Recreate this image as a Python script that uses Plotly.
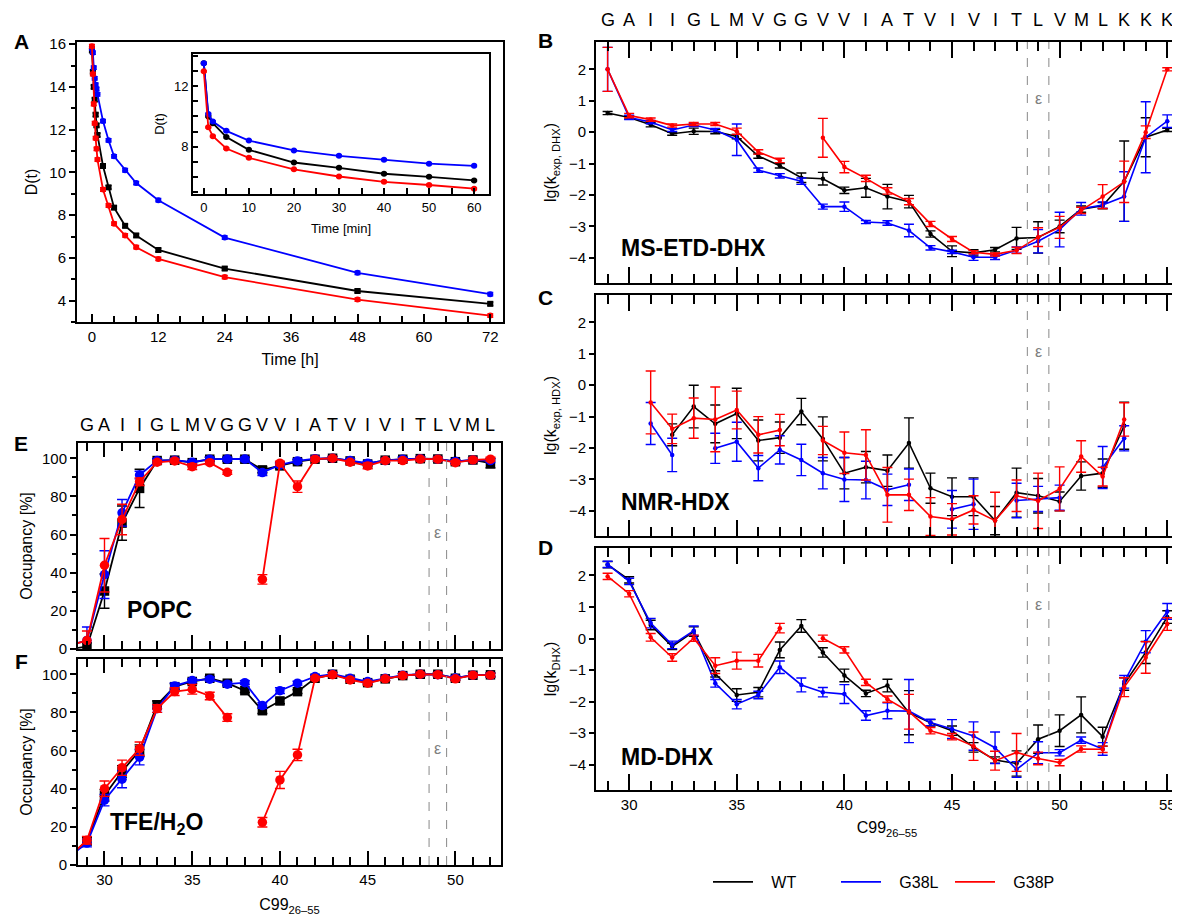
import plotly.graph_objects as go

W, H = 1180, 919
OFF = 8  # page body margin in the browser
FW, FH = W - OFF, H - OFF
FONT = "Liberation Sans, Arial, sans-serif"
COLORS = {"WT": "#000000", "G38L": "#0000ff", "G38P": "#ff0000"}

# ---------------- panel A: deuteration over time ----------------
time_h = [0, 0.17, 0.33, 0.5, 0.67, 0.83, 1, 2, 3, 4, 6, 8, 12, 24, 48, 72]
dA_wt = [15.7, 14.7, 14.0, 13.4, 12.7, 12.2, 11.75, 10.3, 9.3, 8.35, 7.5, 7.05, 6.37, 5.5, 4.45, 3.85]
dA_g38l = [15.8, 15.6, 14.9, 14.4, 14.1, 13.9, 13.65, 12.4, 11.5, 10.75, 10.1, 9.5, 8.7, 6.95, 5.3, 4.3]
dA_g38p = [15.9, 14.6, 13.2, 12.3, 11.6, 11.1, 10.6, 9.2, 8.45, 7.6, 7.05, 6.5, 5.95, 5.1, 4.05, 3.3]

time_min = [0, 1, 2, 5, 10, 20, 30, 40, 50, 60]
dI_wt = [13.5, 10.0, 9.55, 8.64, 7.8, 6.97, 6.62, 6.23, 6.03, 5.79]
dI_g38l = [13.5, 10.16, 9.66, 9.05, 8.41, 7.76, 7.41, 7.15, 6.89, 6.75]
dI_g38p = [12.96, 9.29, 8.7, 7.89, 7.28, 6.52, 6.05, 5.7, 5.49, 5.25]

# ---------------- panels B-D: residue resolved rates ----------------
residues = list(range(29, 56))
sequence = list("GAIIGLMVGGVVIATVIVITLVMLKKK")

kB_wt = [0.61, 0.47, 0.24, -0.05, 0.03, 0.02, -0.14, -0.76, -1.07, -1.45, -1.48, -1.85,
         -1.77, -2.05, -2.21, -3.24, -3.79, -3.84, -3.74, -3.38, -3.35, -3.0, -2.45, -2.34, -1.56, -0.16, 0.07]
eB_wt = [0.05, 0.05, 0.07, 0.05, 0.1, 0.07, 0.07, 0.07, 0.07, 0.15, 0.2, 0.1,
         0.3, 0.39, 0.2, 0.1, 0.17, 0.1, 0.07, 0.35, 0.5, 0.2, 0.1, 0.1, 1.28, 0.62, 0.05]
kB_g38l = [2.0, 0.47, 0.32, 0.07, 0.23, 0.07, -0.24, -1.21, -1.39, -1.56, -2.37, -2.37,
           -2.86, -2.89, -3.13, -3.68, -3.81, -3.98, -3.98, -3.75, -3.47, -3.1, -2.44, -2.32, -2.05, -0.16, 0.35]
eB_g38l = [0.7, 0.07, 0.05, 0.05, 0.05, 0.05, 0.5, 0.07, 0.07, 0.1, 0.08, 0.15,
           0.05, 0.07, 0.2, 0.07, 0.05, 0.1, 0.07, 0.1, 0.37, 0.55, 0.2, 0.1, 0.79, 1.13, 0.2]
kB_g38p = [2.0, 0.53, 0.4, 0.21, 0.26, 0.26, 0.03, -0.63, -0.9, None, -0.18, -1.11,
           -1.47, -1.87, -2.21, -2.92, -3.4, -3.82, -3.89, -3.76, -3.34, -3.03, -2.49, -2.05, -1.58, 0.0, 2.0]
eB_g38p = [0.7, 0.07, 0.05, 0.05, 0.05, 0.05, 0.1, 0.07, 0.07, 0, 0.62, 0.18,
           0.1, 0.1, 0.1, 0.08, 0.08, 0.05, 0.05, 0.1, 0.3, 0.35, 0.1, 0.38, 0.66, 0.2, 0.05]

kC_wt = [None, None, None, -1.58, -0.68, -1.23, -0.9, -1.76, -1.67, -0.84, -1.71, -2.8,
         -2.61, -2.72, -1.84, -3.28, -3.55, -3.55, -4.31, -3.42, -3.52, -3.7, -2.89, -2.8, -1.29, None, None]
eC_wt = [0, 0, 0, 0.35, 0.68, 0.6, 0.8, 0.65, 0.5, 0.42, 0.7, 0.5,
         0.5, 0.5, 0.8, 0.48, 0.6, 0.6, 0.45, 0.78, 0.55, 0.3, 0.45, 0.45, 0.75, 0, 0]
kC_g38l = [None, None, -1.22, -2.22, None, -2.01, -1.8, -2.64, -2.06, -2.38, -2.8, -3.0,
           -3.02, -3.33, -3.17, None, -3.95, -3.79, None, -3.67, -3.62, -3.58, None, -2.62, -1.69, None, None]
eC_g38l = [0, 0, 0.67, 0.53, 0, 0.48, 0.62, 0.4, 0.45, 0.5, 0.5, 0.7,
           0.6, 0.5, 0.5, 0, 0.6, 0.8, 0, 0.55, 0.4, 0.4, 0, 0.67, 0.4, 0, 0]
kC_g38p = [None, None, -0.55, -1.39, -1.05, -1.09, -0.79, -1.58, -1.43, None, -1.76, -2.15,
           -2.22, -3.49, -3.49, -4.18, -4.27, -3.97, -4.31, -3.52, -3.68, -3.3, -2.27, -2.91, -1.09, None, None]
eC_g38p = [0, 0, 1.0, 0.47, 0.64, 1.03, 0.6, 0.58, 0.5, 0, 0.45, 0.66,
           0.8, 0.87, 0.5, 0.6, 0.5, 0.45, 0.9, 0.5, 0.88, 0.7, 0.5, 0.3, 0.53, 0, 0]

kD_wt = [2.34, 1.86, 0.43, -0.25, 0.22, -1.12, -1.79, -1.7, -0.36, 0.4, -0.44, -1.17,
         -1.74, -1.49, -2.35, -2.67, -2.92, -3.45, -3.85, -3.96, -3.19, -2.92, -2.42, -3.11, -1.44, -0.44, 0.68]
eD_wt = [0.1, 0.1, 0.15, 0.1, 0.15, 0.1, 0.2, 0.15, 0.25, 0.2, 0.15, 0.2,
         0.1, 0.2, 0.7, 0.1, 0.15, 0.15, 0.1, 0.4, 0.45, 0.5, 0.57, 0.3, 0.2, 0.35, 0.2]
kD_g38l = [2.35, 1.81, 0.49, -0.2, 0.25, -1.42, -2.08, -1.79, -0.91, -1.47, -1.7, -1.76,
           -2.44, -2.29, -2.3, -2.66, -2.87, -3.09, -3.46, -4.15, -3.62, -3.62, -3.22, -3.5, -1.37, -0.1, 0.86]
eD_g38l = [0.1, 0.1, 0.15, 0.12, 0.15, 0.12, 0.15, 0.12, 0.2, 0.22, 0.15, 0.3,
           0.15, 0.25, 1.0, 0.1, 0.3, 0.45, 0.5, 0.25, 0.35, 0.1, 0.1, 0.2, 0.2, 0.35, 0.25]
kD_g38p = [1.97, 1.42, 0.04, -0.6, 0.01, -0.86, -0.7, -0.7, 0.33, None, 0.01, -0.36,
           -1.39, -1.92, -2.32, -2.92, -3.11, -3.41, -3.87, -3.61, -3.8, -3.93, -3.5, -3.51, -1.54, -0.6, 0.46]
eD_g38p = [0.1, 0.1, 0.12, 0.12, 0.1, 0.25, 0.27, 0.2, 0.15, 0, 0.1, 0.1,
           0.1, 0.1, 0.55, 0.1, 0.1, 0.45, 0.3, 0.6, 0.2, 0.1, 0.1, 0.1, 0.3, 0.5, 0.2]

# ---------------- panels E-F: helix occupancy ----------------
res_occ = list(range(28, 53))
seq_occ = list("GAIIGLMVGGVVIATVIVITLVML")  # residues 29-52

occE_wt = [0, 1.2, 30.4, 66, 84.2, 98.8, 99, 97.7, 99.5, 99.5, 99.5, 93.9, 96,
           98.2, 99.5, 100, 98.6, 97, 99, 99.5, 99.8, 99.6, 98.2, 99.1, 97.4]
eE_wt = [0, 2, 9, 9, 10, 1, 1, 1, 1, 1, 1, 1.5, 1.5, 1, 1, 1, 1, 1, 1, 1, 1, 1, 1, 1, 2.5]
occE_g38l = [2, 4.5, 39, 71.4, 91.2, 98.8, 99, 97.9, 99.5, 99.6, 99.6, 92.5, 96.5,
             98.6, 99.8, 100, 98.8, 97.4, 98.8, 99.5, 99.8, 99.5, 98.4, 99.1, 98.8]
eE_g38l = [0, 7, 12.5, 7, 2, 1, 1, 1, 1, 1, 1, 1.5, 1, 1, 1, 1, 1, 1, 1, 1, 1, 1, 1, 1, 1]
occE_g38p = [2, 4.4, 43.9, 67.9, 87.7, 97.9, 98.6, 95.6, 97.7, 92.6, None, 36.5, 97.4,
             85.1, 99.5, 100, 97.9, 96, 98.8, 98.8, 99.6, 99.5, 97.7, 99.1, 99.5]
eE_g38p = [0, 5, 14, 8, 2, 1, 1, 1.5, 1, 1, 0, 2.5, 1, 3, 1, 1, 1, 1.5, 1, 1, 1, 1, 1, 1, 1]

occF_wt = [4.5, 12.6, 36.5, 49, 60, 84, 93.5, 96.2, 97.9, 95.3, 91.4, 80.9, 86,
           90.9, 97.9, 100, 97.4, 95.6, 97.6, 99.3, 100, 100, 97.9, 99.5, 99.7]
eF_wt = [0, 2, 3, 3, 3, 2, 1.5, 1, 1, 1, 1, 1.5, 1.5, 1, 1, 1, 1, 1, 1, 1, 1, 1, 1, 1, 1]
occF_g38l = [4.5, 11.5, 34, 45, 56.5, 82, 93.9, 96.7, 97.4, 94.8, 95.6, 83.6, 91.4,
             95.3, 98.8, 100, 97.9, 96.2, 97.9, 99.5, 100, 99.8, 98.1, 99.5, 99.5]
eF_g38l = [0, 2, 3, 4.5, 4, 2, 1.5, 1, 1, 1, 1, 1.5, 1.5, 1, 1, 1, 1, 1, 1, 1, 1, 1, 1, 1, 1]
occF_g38p = [4.5, 13, 40, 51, 61, 82, 90.9, 92.1, 88.6, 77.3, None, 22.4, 44.6,
             57.7, 97.9, 99.8, 97, 95.3, 97.6, 99.3, 100, 99.8, 97.6, 99.5, 99.5]
eF_g38p = [0, 2, 4, 4, 3.5, 2, 2, 2.5, 2, 2, 0, 2.5, 4.5, 3, 1, 1, 1, 1, 1, 1, 1, 1, 1, 1, 1]


def px2x(px):
    return (px - OFF) / FW


def px2y(py):
    return 1 - (py - OFF) / FH


def dom_x(a, b):
    return [px2x(a), px2x(b)]


def dom_y(top, bottom):
    return [px2y(bottom), px2y(top)]


fig = go.Figure()


def add_series(x, y, err, name, ax, size, symbol="circle", width=1.6, cap=4):
    n = "" if ax == 1 else str(ax)
    fig.add_trace(go.Scatter(
        x=x, y=y, mode="lines+markers", name=name, showlegend=False,
        xaxis="x" + n, yaxis="y" + n,
        line=dict(color=COLORS[name], width=width),
        marker=dict(color=COLORS[name], size=size, symbol=symbol),
        error_y=dict(type="data", array=err, color=COLORS[name], thickness=1.4, width=cap),
    ))


# panel A
for name, d in [("WT", dA_wt), ("G38L", dA_g38l), ("G38P", dA_g38p)]:
    add_series(time_h, d, [0.08] * len(d), name, 1, 6, "square" if name == "WT" else "circle", 1.8, 3)
for name, d in [("WT", dI_wt), ("G38L", dI_g38l), ("G38P", dI_g38p)]:
    add_series(time_min, d, [0.05] * len(d), name, 2, 6, "circle", 1.8, 3)

# panels B, C, D
for ax, sets in [(3, [("WT", kB_wt, eB_wt), ("G38L", kB_g38l, eB_g38l), ("G38P", kB_g38p, eB_g38p)]),
                 (4, [("WT", kC_wt, eC_wt), ("G38L", kC_g38l, eC_g38l), ("G38P", kC_g38p, eC_g38p)]),
                 (5, [("WT", kD_wt, eD_wt), ("G38L", kD_g38l, eD_g38l), ("G38P", kD_g38p, eD_g38p)])]:
    for name, k, e in sets:
        add_series(residues, k, e, name, ax, 4.5, "circle", 1.6, 5)

# panels E, F
for ax, sets in [(6, [("WT", occE_wt, eE_wt), ("G38L", occE_g38l, eE_g38l), ("G38P", occE_g38p, eE_g38p)]),
                 (7, [("WT", occF_wt, eF_wt), ("G38L", occF_g38l, eF_g38l), ("G38P", occF_g38p, eF_g38p)])]:
    for name, o, e in sets:
        add_series(res_occ, o, e, name, ax, 9.5, "square" if name == "WT" else "circle", 1.8, 5)

# legend entries, one small legend per entry to match spacing
for name, leg in [("WT", "legend"), ("G38L", "legend2"), ("G38P", "legend3")]:
    fig.add_trace(go.Scatter(x=[None], y=[None], mode="lines", name="\u00a0\u00a0\u00a0" + name, legend=leg,
                             line=dict(color=COLORS[name], width=1.6), xaxis="x5", yaxis="y5"))

tickfont = dict(family=FONT, size=15, color="black")
base = dict(showline=True, linecolor="black", linewidth=2, showgrid=False, zeroline=False,
            tickcolor="black", tickwidth=1.8, tickfont=tickfont, automargin=False)

# residue x axes
res_x = dict(base, range=[28.46, 55.5], mirror="ticks", ticks="inside", ticklen=16,
             tick0=0, dtick=5, minor=dict(ticks="inside", ticklen=9, tick0=0, dtick=1,
                                          tickcolor="black", tickwidth=1.8, showgrid=False))
occ_x = dict(base, range=[28.49, 52.6], mirror="ticks", ticks="inside", ticklen=14,
             tick0=0, dtick=5, minor=dict(ticks="inside", ticklen=8, tick0=0, dtick=1,
                                          tickcolor="black", tickwidth=1.8, showgrid=False))
k_y = dict(base, range=[-4.8, 2.87], mirror=True, ticks="outside", ticklen=5, dtick=1,
           title=dict(font=dict(family=FONT, size=16, color="black"), standoff=8))
occ_y = dict(base, range=[0, 108], mirror=True, ticks="outside", ticklen=6, tick0=0, dtick=20,
             minor=dict(ticks="outside", ticklen=4, dtick=10, tickcolor="black", tickwidth=1.8),
             title=dict(text="Occupancy [%]", font=dict(family=FONT, size=16, color="black"), standoff=5))

xB, yB = dom_x(596, 1178), dom_y(42, 283)
yC, yD = dom_y(295, 536), dom_y(548, 790)
xE, yE, yF = dom_x(78, 501), dom_y(443, 649), dom_y(659, 865)

leg_style = dict(orientation="h", xanchor="left", yanchor="middle", y=px2y(882), itemwidth=40,
                 font=dict(family=FONT, size=16), bgcolor="rgba(0,0,0,0)")

fig.update_layout(
    width=FW, height=FH, margin=dict(l=0, r=0, t=0, b=0, autoexpand=False),
    paper_bgcolor="white", plot_bgcolor="white",
    font=dict(family=FONT, color="black"),
    xaxis=dict(base, domain=dom_x(77, 503), anchor="y", range=[-2.7, 74.3], mirror=True,
               ticks="inside", ticklen=8, tick0=0, dtick=12,
               minor=dict(ticks="inside", ticklen=6, dtick=4, tickcolor="black", tickwidth=1.8),
               title=dict(text="Time [h]", font=dict(family=FONT, size=16), standoff=10)),
    yaxis=dict(base, domain=dom_y(42, 322), anchor="x", range=[3.0, 16.1], mirror=True,
               ticks="outside", ticklen=6, dtick=2,
               minor=dict(ticks="outside", ticklen=4, dtick=1, tickcolor="black", tickwidth=1.8),
               title=dict(text="D(t)", font=dict(family=FONT, size=16), standoff=8)),
    xaxis2=dict(base, domain=dom_x(193, 489), anchor="y2", range=[-2.4, 63.3], mirror=True,
                ticks="inside", ticklen=6, tick0=0, dtick=10, tickfont=dict(family=FONT, size=13),
                minor=dict(ticks="inside", ticklen=6, dtick=5, tickcolor="black", tickwidth=1.5),
                title=dict(text="Time [min]", font=dict(family=FONT, size=13), standoff=10)),
    yaxis2=dict(base, domain=dom_y(54, 194), anchor="x2", range=[4.9, 14.1], mirror=True,
                ticks="inside", ticklen=5, tick0=0, dtick=4, tickfont=dict(family=FONT, size=13),
                minor=dict(ticks="inside", ticklen=5, dtick=1, tickcolor="black", tickwidth=1.5),
                title=dict(text="D(t)", font=dict(family=FONT, size=13), standoff=6)),
    xaxis3=dict(res_x, domain=xB, anchor="y3", showticklabels=False),
    yaxis3=dict(k_y, domain=yB, anchor="x3", title=dict(k_y["title"], text="lg(k<sub>exp, DHX</sub>)")),
    xaxis4=dict(res_x, domain=xB, anchor="y4", showticklabels=False),
    yaxis4=dict(k_y, domain=yC, anchor="x4", title=dict(k_y["title"], text="lg(k<sub>exp, HDX</sub>)")),
    xaxis5=dict(res_x, domain=xB, anchor="y5",
                title=dict(text="C99<sub>26\u201355</sub>", font=dict(family=FONT, size=16), standoff=10)),
    yaxis5=dict(k_y, domain=yD, anchor="x5", title=dict(k_y["title"], text="lg(k<sub>DHX</sub>)")),
    xaxis6=dict(occ_x, domain=xE, anchor="y6", showticklabels=False),
    yaxis6=dict(occ_y, domain=yE, anchor="x6"),
    xaxis7=dict(occ_x, domain=xE, anchor="y7",
                title=dict(text="C99<sub>26\u201355</sub>", font=dict(family=FONT, size=16), standoff=12)),
    yaxis7=dict(occ_y, domain=yF, anchor="x7"),
    legend=dict(leg_style, x=px2x(708)),
    legend2=dict(leg_style, x=px2x(836)),
    legend3=dict(leg_style, x=px2x(950)),
)

# epsilon region markers
for n, eps_y in [("3", 1.07), ("4", 1.07), ("5", 1.07), ("6", 61), ("7", 61)]:
    for xv in (48.5, 49.5):
        fig.add_shape(type="line", xref="x" + n, yref="y" + n + " domain", x0=xv, x1=xv, y0=0, y1=1,
                      line=dict(color="#888888", width=1, dash="dash"))
    fig.add_annotation(x=49, y=eps_y, xref="x" + n, yref="y" + n, text="\u03b5", showarrow=False,
                       xanchor="center", yanchor="middle",
                       font=dict(family=FONT, size=16, color="#808080"))

# sequence letters
for r, s in zip(residues, sequence):
    fig.add_annotation(x=r, y=px2y(20), xref="x3", yref="paper", text=s, showarrow=False,
                       xanchor="center", yanchor="middle", font=dict(family=FONT, size=18, color="black"))
for r, s in zip(res_occ[1:], seq_occ):
    fig.add_annotation(x=r, y=px2y(425), xref="x6", yref="paper", text=s, showarrow=False,
                       xanchor="center", yanchor="middle", font=dict(family=FONT, size=18, color="black"))

# panel letters and method labels
for txt, px, py in [("A", 21, 42), ("B", 545, 40), ("C", 545, 297), ("D", 545, 547), ("E", 21, 443), ("F", 21, 661)]:
    fig.add_annotation(x=px2x(px), y=px2y(py), xref="paper", yref="paper", text="<b>%s</b>" % txt,
                       xanchor="center", yanchor="middle",
                       showarrow=False, font=dict(family=FONT, size=21, color="black"))
for txt, ax, xv, yv in [("MS-ETD-DHX", "3", 29.55, -3.68), ("NMR-HDX", "4", 29.55, -3.72),
                        ("MD-DHX", "5", 29.55, -3.76), ("POPC", "6", 31.15, 20.2),
                        ("TFE/H<sub>2</sub>O", "7", 30.2, 22)]:
    fig.add_annotation(x=xv, y=yv, xref="x" + ax, yref="y" + ax, text="<b>%s</b>" % txt,
                       xanchor="left", yanchor="middle",
                       showarrow=False, font=dict(family=FONT, size=23, color="black"))

fig.write_html("out.html")
